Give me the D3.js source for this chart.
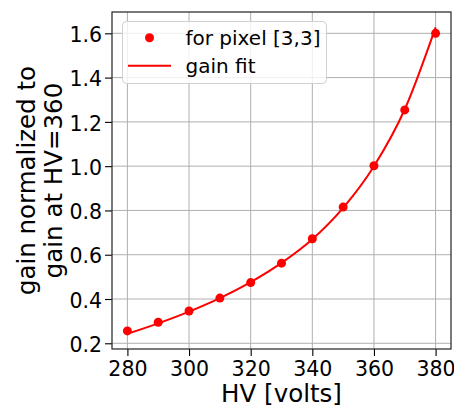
<!DOCTYPE html>
<html><head><meta charset="utf-8">
<script src="https://cdn.jsdelivr.net/npm/d3@7"></script>
<style>body{margin:0;background:#fff}svg{display:block}text{font-family:"DejaVu Sans",sans-serif;fill:#000}</style>
</head><body>
<script>
const hv = [280,290,300,310,320,330,340,350,360,370,380];
const gainPoints = [0.256,0.295,0.346,0.404,0.474,0.562,0.672,0.815,1.002,1.254,1.600];
const fitHV = [280,290,300,310,320,330,340,350,360,370,380];
const fitGain = [0.243,0.290,0.343,0.404,0.476,0.563,0.670,0.812,1.000,1.257,1.627];
const xTicks = [280,300,320,340,360,380];
const yTicks = [0.2,0.4,0.6,0.8,1.0,1.2,1.4,1.6];
const legendLabels = ["for pixel [3,3]","gain fit"];

const W=454,H=406, L=112,R=451,T=12,B=349;
const svg=d3.select("body").append("svg").attr("width",W).attr("height",H);
const x=d3.scaleLinear().domain([275,385]).range([L,R]);
const y=d3.scaleLinear().domain([0.1742,1.6963]).range([B,T]);

// grid
svg.append("g").selectAll("line").data(xTicks).join("line")
 .attr("x1",d=>x(d)).attr("x2",d=>x(d)).attr("y1",T).attr("y2",B)
 .attr("stroke","#b0b0b0").attr("stroke-width",1);
svg.append("g").selectAll("line").data(yTicks).join("line")
 .attr("x1",L).attr("x2",R).attr("y1",d=>y(d)).attr("y2",d=>y(d))
 .attr("stroke","#b0b0b0").attr("stroke-width",1);

// axes
const xa=svg.append("g").attr("transform",`translate(0,${B})`)
 .call(d3.axisBottom(x).tickValues(xTicks).tickFormat(d3.format("d")).tickSize(7).tickPadding(5));
const ya=svg.append("g").attr("transform",`translate(${L},0)`)
 .call(d3.axisLeft(y).tickValues(yTicks).tickFormat(d3.format(".1f")).tickSize(7).tickPadding(3));
[xa,ya].forEach(a=>{a.select(".domain").remove();
 a.selectAll(".tick line").attr("stroke","#000").attr("stroke-width",1.1);
 a.selectAll(".tick text").attr("font-size",20.5).attr("font-family","DejaVu Sans").attr("fill","#000");});
xa.selectAll(".tick text").attr("y",27).attr("dy",0);
ya.selectAll(".tick text").attr("dy","0.4em");

// data
const line=d3.line().x((d,i)=>x(fitHV[i])).y(d=>y(d)).curve(d3.curveMonotoneX);
svg.append("path").attr("d",line(fitGain)).attr("fill","none").attr("stroke","#ff0000").attr("stroke-width",2);
svg.append("g").selectAll("circle").data(gainPoints).join("circle")
 .attr("cx",(d,i)=>x(hv[i])).attr("cy",d=>y(d)).attr("r",4.5).attr("fill","#ff0000");

// frame
svg.append("rect").attr("x",L).attr("y",T).attr("width",R-L).attr("height",B-T)
 .attr("fill","none").attr("stroke","#222").attr("stroke-width",1.2);

// legend
const lg=svg.append("g");
lg.append("rect").attr("x",122.5).attr("y",21.5).attr("width",204).attr("height",62).attr("rx",4)
 .attr("fill","#fff").attr("fill-opacity",0.8).attr("stroke","#d0d0d0").attr("stroke-width",1);
lg.append("circle").attr("cx",149.5).attr("cy",37.7).attr("r",4.5).attr("fill","#ff0000");
lg.append("line").attr("x1",128).attr("x2",171).attr("y1",65.7).attr("y2",65.7).attr("stroke","#ff0000").attr("stroke-width",2);
lg.selectAll("text.lab").data(legendLabels).join("text").attr("class","lab")
 .attr("x",185.5).attr("y",(d,i)=>45+i*28.3).attr("font-size",20).text(d=>d);

// axis labels
svg.append("text").attr("x",(L+R)/2).attr("y",401.5).attr("text-anchor","middle").attr("font-size",24.5).text("HV [volts]");
const yl=svg.append("text").attr("transform",`translate(0,${(T+B)/2}) rotate(-90)`).attr("text-anchor","middle").attr("font-size",24.5);
yl.append("tspan").attr("x",0).attr("y",35).text("gain normalized to");
yl.append("tspan").attr("x",0).attr("y",62).text("gain at HV=360");
</script>
</body></html>
